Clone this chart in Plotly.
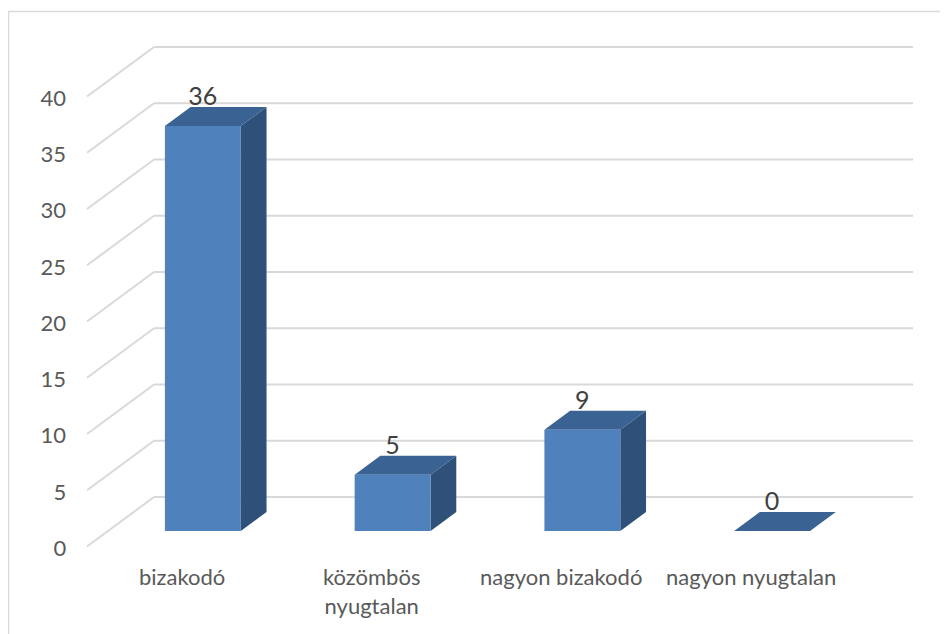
import plotly.graph_objects as go

# ---- data ----
categories = ["bizakodó", "közömbös<br>nyugtalan", "nagyon bizakodó", "nagyon nyugtalan"]
values = [36, 5, 9, 0]
y_ticks = [0, 5, 10, 15, 20, 25, 30, 35, 40]

# ---- oblique 3D geometry (category units / value units) ----
DEPTH_DX = 0.353      # horizontal shift from back wall to front plane (category units)
DEPTH_DY = 4.4        # vertical shift from back wall to front plane (value units)
BAR_W = 0.40
D_FRONT = 0.687
D_BACK = 0.303
N = len(categories)

FRONT_COL = "#4F81BD"
TOP_COL = "#3A6292"
SIDE_COL = "#2F5179"
GRID_COL = "#D9D9D9"
TEXT_COL = "#595959"
FONT = "Lato, Carlito, Calibri, sans-serif"

# page body has an 8px margin: the figure is offset by this amount
OFF = 8
CAT_PX = 189.75
VAL_PX = 11.25
WALL_LEFT_PX = 154
ZERO_PX = 497


def proj(x, v, d):
    return x - d * DEPTH_DX, v - d * DEPTH_DY


def poly(points):
    xs, ys = [], []
    for (x, v, d) in points:
        px, py = proj(x, v, d)
        xs.append(px)
        ys.append(py)
    xs.append(xs[0]); ys.append(ys[0])
    return xs, ys


fig = go.Figure()

# gridlines: back wall horizontals + left wall diagonals
gx, gy = [], []
for v in y_ticks:
    for (a, b) in [((0, v, 0), (N, v, 0)), ((0, v, 0), (0, v, 1))]:
        x0, y0 = proj(*a)
        x1, y1 = proj(*b)
        gx += [x0, x1, None]
        gy += [y0, y1, None]
fig.add_trace(go.Scatter(x=gx, y=gy, mode="lines",
                         line=dict(color=GRID_COL, width=2), hoverinfo="skip"))

# bars
fx, fy, tx, ty, sx, sy = [], [], [], [], [], []
for i, v in enumerate(values):
    c = i + 0.5
    l, r = c - BAR_W / 2, c + BAR_W / 2
    if v > 0:
        xs, ys = poly([(l, 0, D_FRONT), (r, 0, D_FRONT), (r, v, D_FRONT), (l, v, D_FRONT)])
        fx += xs + [None]; fy += ys + [None]
        xs, ys = poly([(r, 0, D_FRONT), (r, 0, D_BACK), (r, v, D_BACK), (r, v, D_FRONT)])
        sx += xs + [None]; sy += ys + [None]
    xs, ys = poly([(l, v, D_FRONT), (r, v, D_FRONT), (r, v, D_BACK), (l, v, D_BACK)])
    tx += xs + [None]; ty += ys + [None]

for xs, ys, col in [(sx, sy, SIDE_COL), (tx, ty, TOP_COL), (fx, fy, FRONT_COL)]:
    fig.add_trace(go.Scatter(x=xs, y=ys, mode="lines", fill="toself",
                             fillcolor=col, line=dict(width=0, color=col),
                             hoverinfo="skip"))

# data labels
lx = [proj(i + 0.5, v, D_FRONT)[0] for i, v in enumerate(values)]
ly = [proj(i + 0.5, v, D_BACK)[1] - 0.4 for i, v in enumerate(values)]
fig.add_trace(go.Scatter(x=lx, y=ly, mode="text", text=[str(v) for v in values],
                         textposition="top center",
                         textfont=dict(family=FONT, size=25, color="#404040"),
                         hoverinfo="skip"))

# y tick labels (front plane)
tick_x = [proj(0, v, 1)[0] - 0.11 for v in y_ticks]
tick_y = [proj(0, v, 1)[1] - 0.35 for v in y_ticks]
fig.add_trace(go.Scatter(x=tick_x, y=tick_y, mode="text", text=[str(v) for v in y_ticks],
                         textposition="middle left",
                         textfont=dict(family=FONT, size=22, color=TEXT_COL),
                         hoverinfo="skip"))

# category labels (front plane)
for i, cat in enumerate(categories):
    cx, cy = proj(i + 0.5, 0, 1)
    fig.add_annotation(x=cx, y=cy - 1.3, text=cat, showarrow=False,
                       xanchor="center", yanchor="top",
                       font=dict(family=FONT, size=22, color=TEXT_COL))

# chart border
fig.add_shape(type="rect", xref="paper", yref="paper",
              x0=(8.5 - OFF) / 948, x1=1.05, y0=-0.05, y1=1 - (11.5 - OFF) / 634,
              line=dict(color=GRID_COL, width=1.5))

fig.update_layout(
    width=948, height=634, autosize=False,
    margin=dict(l=0, r=0, t=0, b=0),
    paper_bgcolor="white", plot_bgcolor="white",
    showlegend=False,
    xaxis=dict(range=[(OFF - WALL_LEFT_PX) / CAT_PX, (948 + OFF - WALL_LEFT_PX) / CAT_PX],
               visible=False, fixedrange=True),
    yaxis=dict(range=[(ZERO_PX - 634 - OFF) / VAL_PX, (ZERO_PX - OFF) / VAL_PX],
               visible=False, fixedrange=True),
)

fig.write_html("out.html")
